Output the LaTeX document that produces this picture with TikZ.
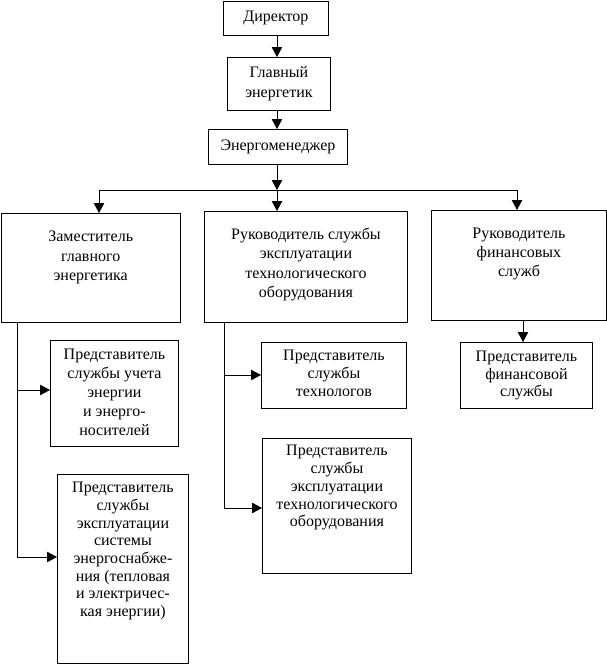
\documentclass[tikz,border=0pt]{standalone}
\usepackage{fontspec}
\setmainfont{Liberation Serif}
\usetikzlibrary{arrows.meta}
\begin{document}
\begin{tikzpicture}[x=1pt,y=-1pt,
  box/.style={draw, line width=0.9pt, inner sep=0pt, anchor=north west, align=center,
    font=\fontsize{16pt}{20pt}\selectfont},
  txt/.style={align=center, inner sep=0pt, anchor=north, font=\fontsize{16pt}{#1}\selectfont},
  conn/.style={line width=0.9pt},
  arr/.style={line width=0.9pt, -{Triangle[length=10pt,width=10.5pt]}}]
\useasboundingbox (0,0) rectangle (607,665);
% boxes
\node[box, minimum width=105pt, minimum height=34pt] (dir) at (223,0.8) {Директор};
\node[box, minimum width=103pt, minimum height=53pt] (glav) at (227,57) {Главный\\энергетик};
\node[box, minimum width=139pt, minimum height=35pt] (enm) at (208,129) {Энергоменеджер};
\node[box, minimum width=179.5pt, minimum height=109pt] (zam) at (0.5,213) {};
\node[box, minimum width=203pt, minimum height=111pt] (ruk) at (204,211) {};
\node[box, minimum width=175pt, minimum height=110pt] (fin) at (431,210) {};
\node[box, minimum width=128pt, minimum height=106pt] (uch) at (50,340) {};
\node[box, minimum width=145pt, minimum height=66pt] (tech) at (261,342) {};
\node[box, minimum width=132pt, minimum height=66pt] (frep) at (460,342) {};
\node[box, minimum width=131pt, minimum height=189pt] (sys) at (57,474) {};
\node[box, minimum width=149pt, minimum height=135pt] (tob) at (262,438) {};
% texts
\node[txt=19.5pt] (tzam) at (zam.north |- 0,231) {Заместитель\\главного\\энергетика};
\node[txt=19.3pt] (truk) at (ruk.north |- 0,228) {Руководитель службы\\эксплуатации\\технологического\\оборудования};
\node[txt=19pt] (tfin) at (fin.north |- 0,228) {Руководитель\\финансовых\\служб};
\node[txt=19pt] (tuch) at (uch.north |- 0,349) {Представитель\\службы учета\\энергии\\и энерго-\\носителей};
\node[txt=18pt] (ttech) at (tech.north |- 0,350) {Представитель\\службы\\технологов};
\node[txt=17.5pt] (tfrep) at (frep.north |- 0,351) {Представитель\\финансовой\\службы};
\node[txt=17.7pt] (tsys) at (sys.north |- 0,482) {Представитель\\службы\\эксплуатации\\системы\\энергоснабже-\\ния (тепловая\\и электричес-\\кая энергии)};
\node[txt=17.8pt] (ttob) at (tob.north |- 0,445) {Представитель\\службы\\эксплуатации\\технологического\\оборудования};
% top chain
\draw[arr] (277,0 |- dir.south) -- (277,0 |- glav.north);
\draw[arr] (277,0 |- glav.south) -- (277,0 |- enm.north);
\coordinate (busL) at (99,190);
\coordinate (busM) at (277,190);
\coordinate (busR) at (517,190);
\draw[arr] (277,0 |- enm.south) -- (busM);
\draw[conn] (busL) -- (busR);
\draw[arr] (busL) -- (busL |- zam.north);
\draw[arr] (busM) -- (busM |- ruk.north);
\draw[arr] (busR) -- (busR |- fin.north);
% finance
\draw[arr] (523,0 |- fin.south) -- (523,0 |- frep.north);
% left trunk
\coordinate (lt) at (17,0 |- zam.south);
\coordinate (l1) at (17,390);
\coordinate (l2) at (17,557);
\draw[conn] (lt) -- (l2);
\draw[arr] (l1) -- (l1 -| uch.west);
\draw[arr] (l2) -- (l2 -| sys.west);
% middle trunk
\coordinate (mt) at (224,0 |- ruk.south);
\coordinate (m1) at (224,375);
\coordinate (m2) at (224,508);
\draw[conn] (mt) -- (m2);
\draw[arr] (m1) -- (m1 -| tech.west);
\draw[arr] (m2) -- (m2 -| tob.west);
\end{tikzpicture}
\end{document}
